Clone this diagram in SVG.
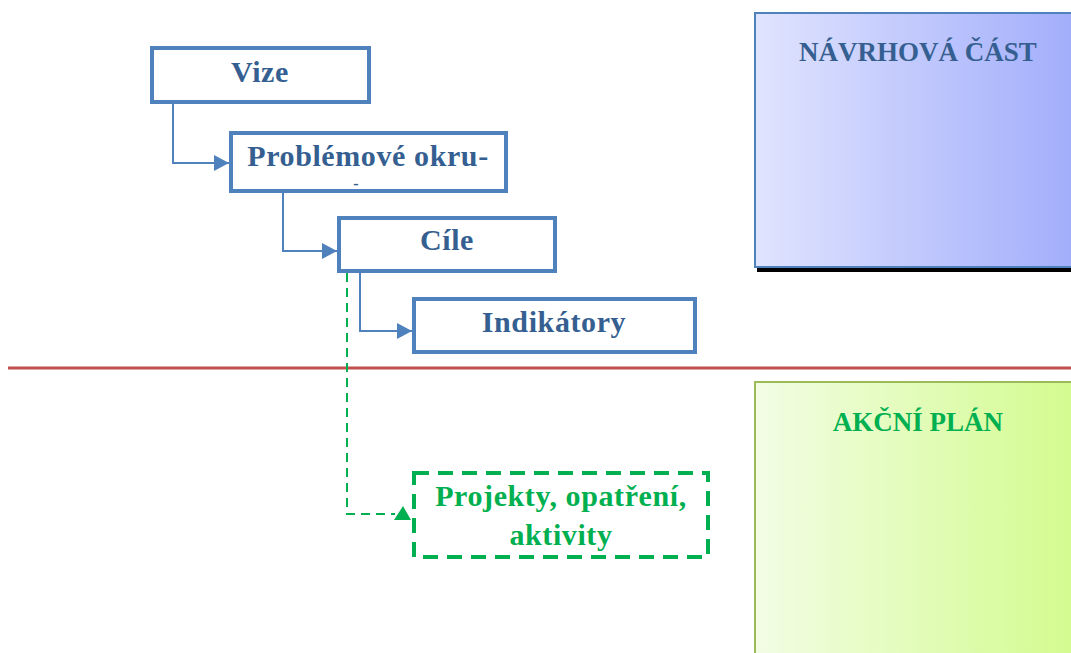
<svg xmlns="http://www.w3.org/2000/svg" width="1071" height="653" viewBox="0 0 1071 653">
<style>
.box{fill:#fff;stroke:#4F81BD;stroke-width:4}
.t{font-family:"Liberation Serif","Times New Roman",serif;font-weight:bold;font-size:30px;fill:#365F91;text-anchor:middle;letter-spacing:0.6px}
.tg{fill:#00B050}
.conn{fill:none;stroke:#4F81BD;stroke-width:2}
.gconn{fill:none;stroke:#00B050;stroke-width:2;stroke-dasharray:9 6}
.gbox{fill:#fff;stroke:#00B050;stroke-width:4;stroke-dasharray:15 9}
</style>
<defs>
<linearGradient id="gBlue" x1="0" y1="0" x2="1" y2="0">
<stop offset="0" stop-color="#E0E4FE"/>
<stop offset="1" stop-color="#A0ACFB"/>
</linearGradient>
<linearGradient id="gGreen" x1="0" y1="0" x2="1" y2="0">
<stop offset="0" stop-color="#F2FDE4"/>
<stop offset="1" stop-color="#D2FB8C"/>
</linearGradient>
<marker id="arrB" markerUnits="userSpaceOnUse" markerWidth="16" markerHeight="17" refX="15" refY="8" orient="auto">
<path d="M0,0 L15,8 L0,16 z" fill="#4F81BD"/>
</marker>
</defs>
<rect width="1071" height="653" fill="#fff"/>

<g id="navrhova">
<rect x="757" y="266" width="320" height="6" fill="#000"/>
<rect x="755" y="13" width="330" height="254" fill="url(#gBlue)" stroke="#4F81BD" stroke-width="2"/>
<text class="t" x="918" y="61" style="font-size:27px;letter-spacing:0">NÁVRHOVÁ ČÁST</text>
</g>

<g id="akcni">
<rect x="755" y="382" width="330" height="290" fill="url(#gGreen)" stroke="#9BBB59" stroke-width="2"/>
<text class="t tg" x="918" y="431" style="font-size:27px;letter-spacing:0">AKČNÍ PLÁN</text>
</g>

<g id="divider">
<line x1="8" y1="368" x2="1071" y2="368" stroke="#C0504D" stroke-width="3"/>
</g>

<g id="connectors">
<path class="conn" d="M173,104 V163 H229" marker-end="url(#arrB)"/>
<path class="conn" d="M283,193 V251 H337" marker-end="url(#arrB)"/>
<path class="conn" d="M360,273 V331 H412" marker-end="url(#arrB)"/>
<path class="gconn" d="M347,273 V514 H395"/>
<polygon points="394,520 403,506 411,520" fill="#00B050"/>
</g>

<g id="vize">
<rect class="box" x="152" y="48" width="217" height="54"/>
<text class="t" x="260" y="82">Vize</text>
</g>

<g id="problemove">
<rect class="box" x="231" y="133" width="275" height="58"/>
<text class="t" x="368" y="166">Problémové okru-</text>
<text class="t" x="356" y="189" style="font-size:16px;letter-spacing:0">-</text>
</g>

<g id="cile">
<rect class="box" x="339" y="218" width="216" height="53"/>
<text class="t" x="447" y="250">Cíle</text>
</g>

<g id="indikatory">
<rect class="box" x="414" y="299" width="281" height="53"/>
<text class="t" x="554" y="332">Indikátory</text>
</g>

<g id="projekty">
<rect class="gbox" x="414" y="473" width="294" height="84"/>
<text class="t tg" x="561" y="506">Projekty, opatření,</text>
<text class="t tg" x="561" y="545">aktivity</text>
</g>
</svg>
